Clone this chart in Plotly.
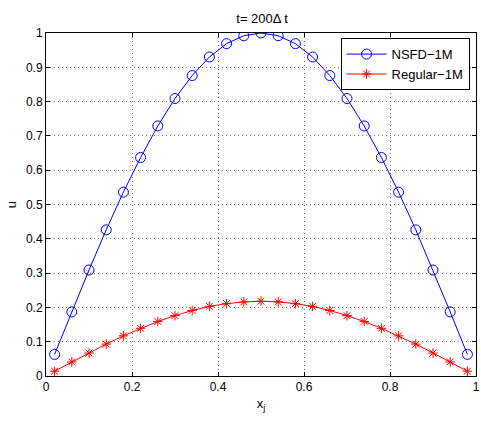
import plotly.graph_objects as go

x_vals = [0.02, 0.06, 0.10, 0.14, 0.18, 0.22, 0.26, 0.30, 0.34, 0.38, 0.42, 0.46, 0.50,
          0.54, 0.58, 0.62, 0.66, 0.70, 0.74, 0.78, 0.82, 0.86, 0.90, 0.94, 0.98]
nsfd_vals = [0.063, 0.187, 0.309, 0.426, 0.536, 0.637, 0.729, 0.809, 0.876, 0.930, 0.969, 0.992, 1.000,
             0.992, 0.969, 0.930, 0.876, 0.809, 0.729, 0.637, 0.536, 0.426, 0.309, 0.187, 0.063]
regular_vals = [0.014, 0.041, 0.067, 0.093, 0.117, 0.139, 0.159, 0.176, 0.191, 0.203, 0.211, 0.216, 0.218,
                0.216, 0.211, 0.203, 0.191, 0.176, 0.159, 0.139, 0.117, 0.093, 0.067, 0.041, 0.014]
x_ticks = [0, 0.2, 0.4, 0.6, 0.8, 1]
x_tick_labels = ["0", "0.2", "0.4", "0.6", "0.8", "1"]
y_ticks = [0, 0.1, 0.2, 0.3, 0.4, 0.5, 0.6, 0.7, 0.8, 0.9, 1]
y_tick_labels = ["0", "0.1", "0.2", "0.3", "0.4", "0.5", "0.6", "0.7", "0.8", "0.9", "1"]

FONT = "Liberation Sans, Arial, Helvetica, sans-serif"

fig = go.Figure()
fig.add_trace(go.Scatter(
    x=x_vals, y=nsfd_vals, name="NSFD\u22121M", mode="lines+markers",
    line=dict(color="#0000ff", width=1),
    marker=dict(symbol="circle-open", size=10, color="#0000ff", line=dict(width=1)),
))
fig.add_trace(go.Scatter(
    x=x_vals, y=regular_vals, name="Regular\u22121M", mode="lines+markers",
    line=dict(color="#ff0000", width=1),
    marker=dict(symbol="asterisk-open", size=8, color="#ff0000", line=dict(width=1, color="#ff0000")),
))

axis_common = dict(
    showgrid=True, gridcolor="#777777", griddash="1px,3px", gridwidth=1,
    showline=True, linecolor="black", linewidth=1, mirror="ticks",
    ticks="inside", ticklen=4, tickcolor="black",
    zeroline=False, tickfont=dict(family=FONT, size=12, color="black"),
    ticklabeloverflow="allow",
)

fig.update_layout(
    width=481, height=421,
    margin=dict(l=46, r=1, t=33, b=45),
    paper_bgcolor="white", plot_bgcolor="white",
    title=dict(text="t= 200\u0394 t", x=0.545, xanchor="center", y=0.957, yanchor="middle",
               font=dict(family=FONT, size=13, color="black")),
    xaxis=dict(range=[0, 1], tickvals=x_ticks, ticktext=x_tick_labels,
               title=dict(text="x<sub>j</sub>", font=dict(family=FONT, size=13, color="black"), standoff=5),
               **axis_common),
    yaxis=dict(range=[0, 1], tickvals=y_ticks, ticktext=y_tick_labels,
               title=dict(text="u", font=dict(family=FONT, size=13, color="black"), standoff=6),
               **axis_common),
    legend=dict(x=0.985, y=0.985, xanchor="right", yanchor="top",
                bgcolor="white", bordercolor="black", borderwidth=1,
                font=dict(family=FONT, size=13, color="black"),
                itemwidth=40, tracegroupgap=0),
    showlegend=True,
)

fig.write_html("out.html", config={"displayModeBar": False},
               post_script="document.body.style.margin='0';document.body.style.overflow='hidden';")
